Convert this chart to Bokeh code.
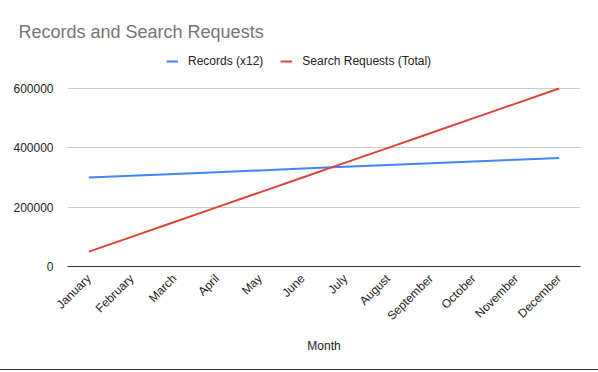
import math
from bokeh.plotting import figure
from bokeh.models import Legend, LegendItem, FixedTicker, NumeralTickFormatter, Range1d
from bokeh.embed import file_html
from bokeh.resources import INLINE

months = ["January", "February", "March", "April", "May", "June", "July",
          "August", "September", "October", "November", "December"]
records_x12 = [300000, 306000, 312000, 318000, 324000, 330000, 336000,
               342000, 348000, 354000, 360000, 366000]
search_total = [50000, 100000, 150000, 200000, 250000, 300000, 350000,
                400000, 450000, 500000, 550000, 600000]
y_ticks = [0, 200000, 400000, 600000]

FONT = "Liberation Sans"
BLUE, RED = "#4285F4", "#DB4437"

# layout (pixels): frame from top 48 to 266; the 600000 gridline sits at 88
FRAME_TOP, GRID_TOP, FRAME_BOTTOM = 48, 88, 266
y_max = y_ticks[-1]
y_end = y_max * (FRAME_BOTTOM - FRAME_TOP) / (FRAME_BOTTOM - GRID_TOP)

p = figure(x_range=months, y_range=Range1d(0, y_end), width=598, height=370,
           output_backend="svg", toolbar_location=None,
           min_border_left=67, min_border_right=18, min_border_top=FRAME_TOP,
           min_border_bottom=370 - FRAME_BOTTOM)
p.outline_line_color = None
p.styles = {"border-bottom": "1px solid #333333"}

p.title.text = "Records and Search Requests"
p.title.text_font = FONT
p.title.text_font_size = "18px"
p.title.text_font_style = "normal"
p.title.text_color = "#757575"
p.title.align = "left"
p.title.offset = -49
p.title.standoff = 13

r1 = p.line(months, records_x12, line_color=BLUE, line_width=2)
r2 = p.line(months, search_total, line_color=RED, line_width=2)

legend = Legend(items=[LegendItem(label="Records (x12)", renderers=[r1]),
                       LegendItem(label="Search Requests (Total)", renderers=[r2])],
                orientation="horizontal", location=(99, 198),
                background_fill_alpha=0, border_line_color=None,
                padding=0, margin=0, spacing=17, label_standoff=10,
                glyph_width=12, glyph_height=14, label_height=14,
                label_text_font=FONT, label_text_font_size="12px", label_text_color="#222222")
p.add_layout(legend, "center")

p.xgrid.grid_line_color = None
p.ygrid.grid_line_color = "#cccccc"
p.ygrid.ticker = FixedTicker(ticks=y_ticks)

p.yaxis.ticker = FixedTicker(ticks=y_ticks)
p.yaxis.formatter = NumeralTickFormatter(format="0")
p.yaxis.axis_line_color = None
p.yaxis.major_tick_line_color = None
p.yaxis.minor_tick_line_color = None
p.yaxis.major_label_standoff = 8
p.yaxis.major_label_text_font = FONT
p.yaxis.major_label_text_font_size = "12px"
p.yaxis.major_label_text_color = "#222222"

p.xaxis.axis_line_color = "#333333"
p.xaxis.major_tick_line_color = None
p.xaxis.minor_tick_line_color = None
p.xaxis.major_label_orientation = math.pi / 4
p.xaxis.major_label_standoff = 4
p.xaxis.major_label_text_font = FONT
p.xaxis.major_label_text_font_size = "12px"
p.xaxis.major_label_text_color = "#222222"
p.xaxis.axis_label = "Month"
p.xaxis.axis_label_text_font = FONT
p.xaxis.axis_label_text_font_size = "12px"
p.xaxis.axis_label_text_font_style = "normal"
p.xaxis.axis_label_text_color = "#222222"
p.xaxis.axis_label_standoff = 8

open("out.html", "w").write(file_html(p, INLINE))
